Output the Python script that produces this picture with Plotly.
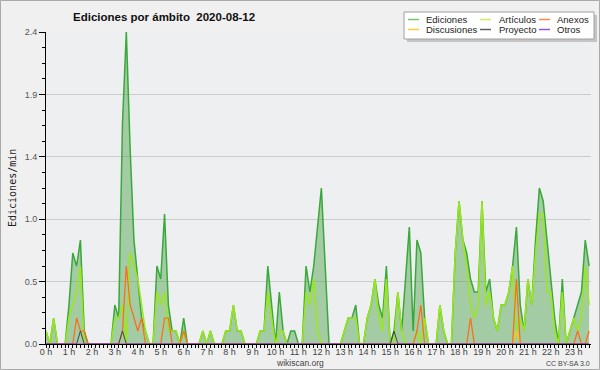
import plotly.graph_objects as go

# ---------------- data (10-minute slots, edits per minute) ----------------
hours = list(range(24))
hour_labels = [f"{h} h" for h in hours]
slots = list(range(143))

ediciones = [
    0.1, 0, 0.2, 0, 0, 0,
    0.3, 0.7, 0.6, 0.8, 0.1, 0,
    0, 0, 0, 0, 0, 0,
    0.3, 0.2, 1.7, 2.4, 1.5, 0.8,
    0.5, 0.2, 0.1, 0, 0, 0.6,
    0.5, 1.0, 0.3, 0.1, 0.1, 0,
    0.2, 0, 0, 0, 0, 0.1,
    0, 0.1, 0, 0, 0, 0.1,
    0.1, 0.3, 0.1, 0.1, 0, 0,
    0, 0, 0.1, 0.1, 0.6, 0.3,
    0, 0.4, 0.1, 0, 0.1, 0.1,
    0, 0, 0.6, 0.4, 0.6, 0.9,
    1.2, 0.6, 0, 0, 0, 0,
    0.1, 0.2, 0.2, 0.3, 0, 0,
    0.2, 0.3, 0.5, 0.3, 0.2, 0.6,
    0, 0.1, 0.4, 0.1, 0.5, 0.9,
    0.1, 0.8, 0.7, 0.2, 0, 0,
    0, 0.3, 0.1, 0, 0, 0.7,
    1.1, 0.8, 0.7, 0.5, 0.4, 0.4,
    1.1, 0.4, 0.5, 0.2, 0.1, 0.3,
    0.3, 0.4, 0.6, 0.9, 0.3, 0.1,
    0.5, 0.3, 0.8, 1.2, 1.1, 0.8,
    0.5, 0.2, 0, 0.5, 0, 0.1,
    0.2, 0.3, 0.4, 0.8, 0.6,
]

articulos = [
    0.1, 0, 0.2, 0, 0, 0,
    0.2, 0.3, 0.4, 0.6, 0, 0,
    0, 0, 0, 0, 0, 0,
    0.2, 0.2, 0.3, 0, 0.7, 0.6,
    0.5, 0.3, 0.1, 0, 0, 0.4,
    0.3, 0.4, 0.1, 0.1, 0.1, 0,
    0.1, 0, 0, 0, 0, 0.1,
    0, 0.1, 0, 0, 0, 0.1,
    0.1, 0.3, 0.1, 0.1, 0, 0,
    0, 0, 0.1, 0.1, 0.4, 0.2,
    0, 0.1, 0.1, 0, 0, 0,
    0, 0, 0.4, 0.3, 0.5, 0.1,
    0, 0, 0, 0, 0, 0,
    0.1, 0.2, 0.2, 0.2, 0, 0,
    0.2, 0.3, 0.5, 0.2, 0.1, 0.5,
    0, 0, 0.4, 0.1, 0, 0,
    0, 0.1, 0, 0.2, 0, 0,
    0, 0.3, 0.1, 0, 0, 0.7,
    1.1, 0.8, 0.6, 0.3, 0.2, 0.3,
    1.1, 0.3, 0.4, 0.2, 0.1, 0.3,
    0.3, 0.4, 0.6, 0.1, 0.2, 0.1,
    0.5, 0.3, 0.7, 1.0, 1.0, 0.4,
    0.4, 0.1, 0, 0.4, 0, 0.1,
    0.2, 0.1, 0.2, 0.6, 0.3,
]

anexos = [
    0, 0, 0, 0, 0, 0,
    0, 0, 0.2, 0.1, 0.1, 0,
    0, 0, 0, 0, 0, 0,
    0, 0, 0.1, 0.6, 0.3, 0.2,
    0.1, 0.2, 0, 0, 0, 0,
    0, 0.2, 0.2, 0, 0, 0,
    0.1, 0, 0, 0, 0, 0,
    0, 0, 0, 0, 0, 0,
    0, 0, 0, 0, 0, 0,
    0, 0, 0, 0, 0, 0,
    0, 0, 0, 0, 0, 0,
    0, 0, 0, 0, 0, 0,
    0, 0, 0, 0, 0, 0,
    0, 0, 0, 0, 0, 0,
    0, 0, 0, 0, 0, 0,
    0, 0, 0, 0, 0, 0,
    0, 0.1, 0.3, 0, 0, 0,
    0, 0, 0, 0, 0, 0,
    0, 0, 0, 0.2, 0, 0,
    0, 0, 0, 0, 0, 0,
    0, 0, 0, 0.5, 0, 0,
    0, 0, 0, 0, 0, 0,
    0, 0, 0, 0, 0, 0,
    0, 0.1, 0, 0, 0.1,
]

discusiones = [
    0, 0, 0, 0, 0, 0,  0, 0, 0, 0, 0, 0,
    0, 0, 0, 0, 0, 0,  0, 0, 0, 0, 0, 0,
    0, 0, 0, 0, 0, 0,  0, 0, 0, 0, 0, 0,
    0, 0, 0, 0, 0, 0,  0, 0, 0, 0, 0, 0,
    0, 0, 0, 0, 0, 0,  0, 0, 0, 0, 0, 0,
    0, 0, 0, 0, 0, 0,  0, 0, 0, 0, 0, 0,
    0, 0, 0, 0, 0, 0,  0, 0, 0, 0, 0, 0,
    0, 0, 0, 0, 0, 0,  0, 0, 0, 0, 0, 0,
    0, 0, 0, 0, 0, 0,  0, 0, 0, 0, 0, 0,
    0, 0, 0, 0, 0, 0,  0, 0, 0, 0, 0, 0,
    0, 0, 0, 0.1, 0, 0,  0, 0, 0, 0, 0, 0,
    0, 0, 0, 0, 0, 0,  0, 0, 0, 0, 0,
]

proyecto = [
    0, 0, 0, 0, 0, 0,  0, 0, 0, 0.1, 0, 0,
    0, 0, 0, 0, 0, 0,  0, 0, 0.1, 0, 0, 0,
    0, 0, 0, 0, 0, 0,  0, 0, 0, 0, 0, 0,
    0, 0, 0, 0, 0, 0,  0, 0, 0, 0, 0, 0,
    0, 0, 0, 0, 0, 0,  0, 0, 0, 0, 0, 0,
    0, 0, 0, 0, 0, 0,  0, 0, 0, 0, 0, 0,
    0, 0, 0, 0, 0, 0,  0, 0, 0, 0, 0, 0,
    0, 0, 0, 0, 0, 0,  0, 0.1, 0, 0, 0, 0,
    0, 0, 0, 0, 0, 0,  0, 0, 0, 0, 0, 0,
    0, 0, 0, 0, 0, 0,  0, 0, 0, 0, 0, 0,
    0, 0, 0, 0, 0, 0,  0, 0, 0, 0, 0, 0,
    0, 0, 0, 0, 0, 0,  0, 0, 0, 0, 0,
]

otros = [
    0, 0, 0, 0, 0, 0,  0, 0, 0, 0, 0, 0,
    0, 0, 0, 0, 0, 0,  0, 0, 0, 0, 0, 0,
    0, 0, 0, 0, 0, 0,  0, 0, 0, 0, 0, 0,
    0, 0, 0, 0, 0, 0,  0, 0, 0, 0, 0, 0,
    0, 0, 0, 0, 0, 0,  0, 0, 0, 0, 0, 0,
    0, 0, 0, 0, 0, 0,  0, 0, 0, 0, 0, 0,
    0, 0, 0, 0, 0, 0,  0, 0, 0, 0, 0, 0,
    0, 0, 0, 0, 0, 0,  0, 0, 0, 0, 0, 0,
    0, 0, 0, 0, 0, 0,  0, 0, 0, 0, 0, 0,
    0, 0, 0, 0, 0, 0,  0, 0, 0, 0, 0, 0,
    0, 0, 0, 0, 0, 0,  0, 0, 0, 0, 0, 0,
    0, 0, 0, 0, 0, 0,  0, 0, 0, 0, 0,
]

y_tickvals = [0, 0.48, 0.96, 1.44, 1.92, 2.4]
y_ticktext = ["0.0", "0.5", "1.0", "1.4", "1.9", "2.4"]

legend_names = ["Ediciones", "Artículos", "Anexos", "Discusiones", "Proyecto", "Otros"]
legend_colors = ["#70c870", "#c8ee60", "#ff8850", "#ffcc40", "#606060", "#9955dd"]

title_text = "Ediciones por ámbito \u00a02020-08-12"

# ---------------- layout geometry ----------------
W, H = 600, 370
L, R, T, B = 46, 9, 32, 26
PW, PH = W - L - R, H - T - B


def px(x):
    return (x - L) / PW


def py(y):
    return (H - B - y) / PH


FONT = "Liberation Sans, Arial, sans-serif"

fig = go.Figure()

fig.add_trace(go.Scatter(
    x=slots, y=ediciones, mode="lines",
    line=dict(color="#3aa83a", width=1.5),
    fill="tozeroy", fillcolor="rgba(70,160,70,0.45)",
    showlegend=False, hoverinfo="skip"))
fig.add_trace(go.Scatter(
    x=slots, y=articulos, mode="lines",
    line=dict(color="#9be81a", width=1.5),
    showlegend=False, hoverinfo="skip"))
fig.add_trace(go.Scatter(
    x=slots, y=discusiones, mode="lines",
    line=dict(color="#ffcc00", width=1.2),
    showlegend=False, hoverinfo="skip"))
fig.add_trace(go.Scatter(
    x=slots, y=anexos, mode="lines",
    line=dict(color="#ff6a13", width=1.2),
    showlegend=False, hoverinfo="skip"))
fig.add_trace(go.Scatter(
    x=slots, y=proyecto, mode="lines",
    line=dict(color="#444444", width=1),
    showlegend=False, hoverinfo="skip"))
fig.add_trace(go.Scatter(
    x=slots, y=otros, mode="lines",
    line=dict(color="#9933ee", width=1),
    showlegend=False, hoverinfo="skip"))

shapes = []
annotations = []

# outer border
shapes.append(dict(type="rect", xref="paper", yref="paper",
                   x0=px(0.5), x1=px(W - 0.5), y0=py(0.5), y1=py(H - 0.5),
                   line=dict(color="#aaaaaa", width=1), fillcolor="rgba(0,0,0,0)",
                   layer="below"))

# legend box with shadow
shapes.append(dict(type="rect", xref="paper", yref="paper",
                   x0=px(407), x1=px(597), y0=py(15), y1=py(42),
                   line=dict(width=0), fillcolor="#c4c4c4", layer="above"))
shapes.append(dict(type="rect", xref="paper", yref="paper",
                   x0=px(404), x1=px(594), y0=py(12), y1=py(39),
                   line=dict(color="#a0a0a0", width=1), fillcolor="#ffffff", layer="above"))

col_line_x = [408, 480, 539]
col_text_x = [424, 497, 555]
row_y = [19.5, 29.5]
for k, (name, col) in enumerate(zip(legend_names, legend_colors)):
    r, c = divmod(k, 3)
    yy = row_y[r]
    shapes.append(dict(type="line", xref="paper", yref="paper",
                       x0=px(col_line_x[c]), x1=px(col_line_x[c] + 11),
                       y0=py(yy), y1=py(yy),
                       line=dict(color=col, width=1.5), layer="above"))
    annotations.append(dict(xref="paper", yref="paper", x=px(col_text_x[c]), y=py(yy),
                            text=name, showarrow=False, xanchor="left", yanchor="middle",
                            font=dict(family=FONT, size=9.5, color="#222222")))

# title
annotations.append(dict(xref="paper", yref="paper", x=px(164), y=py(17),
                        text="<b>" + title_text + "</b>", showarrow=False,
                        xanchor="center", yanchor="middle",
                        font=dict(family=FONT, size=11.5, color="#111111")))
# y-axis title
annotations.append(dict(xref="paper", yref="paper", x=px(12), y=0.5,
                        text="Ediciones/min", showarrow=False, textangle=-90,
                        xanchor="center", yanchor="middle",
                        font=dict(family="DejaVu Sans Mono, monospace", size=10, color="#222222")))
# footer
annotations.append(dict(xref="paper", yref="paper", x=px(300), y=py(363),
                        text="wikiscan.org", showarrow=False,
                        xanchor="center", yanchor="middle",
                        font=dict(family=FONT, size=8.5, color="#444444")))
annotations.append(dict(xref="paper", yref="paper", x=px(592), y=py(363),
                        text="CC BY-SA 3.0", showarrow=False,
                        xanchor="right", yanchor="middle",
                        font=dict(family=FONT, size=7, color="#444444")))

fig.update_layout(
    width=W, height=H,
    margin=dict(l=L, r=R, t=T, b=B, pad=0),
    paper_bgcolor="#f0f0f0",
    plot_bgcolor="#eeeff1",
    showlegend=False,
    shapes=shapes,
    annotations=annotations,
    xaxis=dict(
        range=[0, 142.5],
        tickmode="array",
        tickvals=[h * 6 for h in hours],
        ticktext=hour_labels,
        ticks="outside", ticklen=3, tickcolor="black", tickwidth=1,
        ticklabelstandoff=-4,
        showline=True, linecolor="black", linewidth=1,
        showgrid=False, zeroline=False,
        tickfont=dict(family=FONT, size=9, color="#444444"),
        minor=dict(tickmode="linear", tick0=0, dtick=1, ticks="outside",
                   ticklen=3, tickcolor="black", showgrid=False),
        fixedrange=True,
    ),
    yaxis=dict(
        range=[0, 2.4],
        tickmode="array",
        tickvals=y_tickvals,
        ticktext=y_ticktext,
        ticks="outside", ticklen=6, tickcolor="black", tickwidth=1,
        showline=True, linecolor="black", linewidth=1,
        showgrid=True, gridcolor="#cccccc", gridwidth=1,
        zeroline=False,
        tickfont=dict(family=FONT, size=9, color="#555555"),
        minor=dict(tickmode="linear", tick0=0, dtick=0.12, ticks="outside",
                   ticklen=3, tickcolor="black", showgrid=False),
        fixedrange=True,
    ),
)

fig.write_html(
    "out.html",
    config={"displayModeBar": False},
    post_script="document.body.style.margin='0';document.body.style.overflow='hidden';",
)
